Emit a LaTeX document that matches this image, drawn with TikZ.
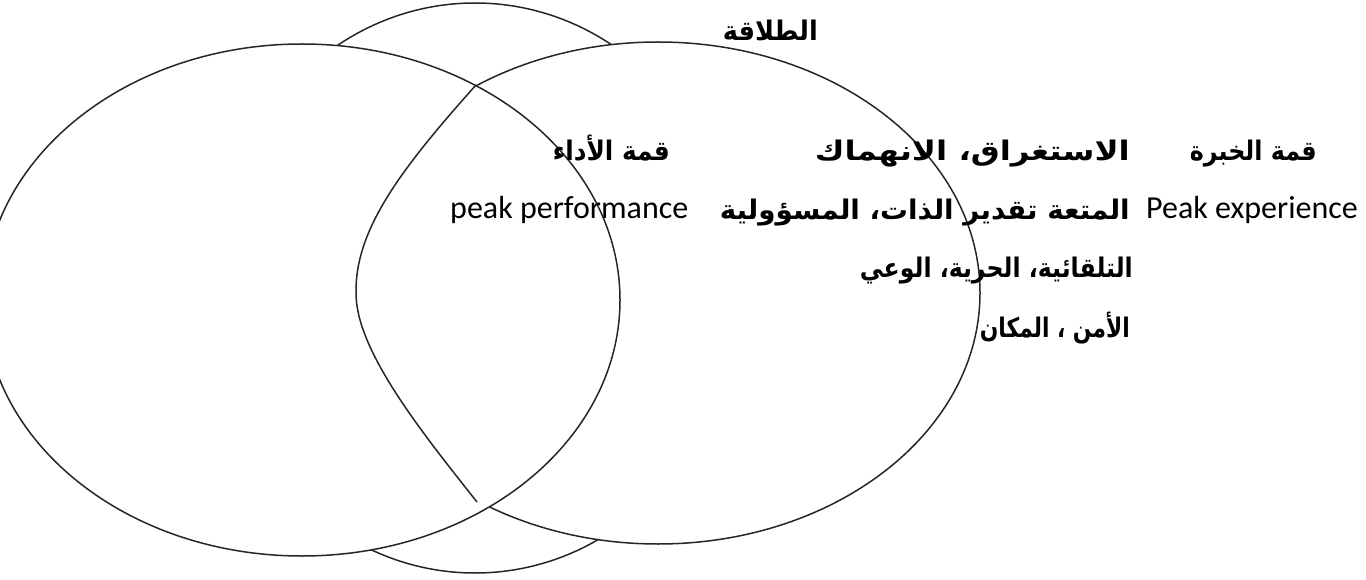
\documentclass[tikz,border=0pt]{standalone}
\usepackage{fontspec}
\setmainfont{Carlito}
\newfontfamily\arabicfont[Script=Arabic]{DejaVu Sans}
\TeXXeTstate=1
\usetikzlibrary{positioning}

% a line of text stretched to the width it takes in the figure
\newcommand{\fitline}[2]{\resizebox{#1pt}{\height}{#2}}

\tikzset{
  ring/.style={line width=1.5pt, black!85},
  artext/.style={font=\arabicfont\bfseries\fontsize{27}{31}\selectfont, inner sep=0pt, anchor=base east},
  entext/.style={font=\fontsize{32}{38}\selectfont, inner sep=0pt},
}

\begin{document}
\begin{tikzpicture}[x=1pt,y=-1pt]
  % \draw[help lines] (0,0) grid[step=50] (1366,580);
  \useasboundingbox (0,0) rectangle (1366,580);

  \draw[ring] (475,288) ellipse [x radius=262pt, y radius=285pt];
  \filldraw[ring,fill=white] (658,293) ellipse [x radius=322pt, y radius=251pt];
  \filldraw[ring,fill=white] (302,300) ellipse [x radius=318pt, y radius=256pt];

  \coordinate (cusp) at (476,85);
  \coordinate (tip)  at (477,502);
  \draw[ring] (cusp) .. controls (400,170) and (355,230) .. (356,293)
                     .. controls (356,350) and (420,430) .. (tip);

  \node[artext] (fluency)    at (818,41)   {\fitline{95}{\beginR الطلاقة\endR}};
  \node[artext] (peakexp)    at (1317,161) {\fitline{127}{\beginR قمة الخبرة\endR}};
  \node[artext] (absorb)     at (1130,161) {\fitline{315}{\beginR الاستغراق، الانهماك\endR}};
  \node[artext] (peakperf)   at (670,161)  {\fitline{117}{\beginR قمة الأداء\endR}};
  \node[entext, anchor=base east] (peakexpen)  at (1358,219) {Peak experience};
  \node[artext] (enjoy)      at (1130,220) {\fitline{410}{\beginR المتعة تقدير الذات، المسؤولية\endR}};
  \node[entext, anchor=base west] (peakperfen) at (450,219)  {peak performance};
  \node[artext] (spont)      at (1133,278) {\fitline{273}{\beginR التلقائية، الحرية، الوعي\endR}};
  \node[artext] (safety)     at (1130,337) {\fitline{150}{\beginR الأمن ، المكان\endR}};
\end{tikzpicture}
\end{document}
